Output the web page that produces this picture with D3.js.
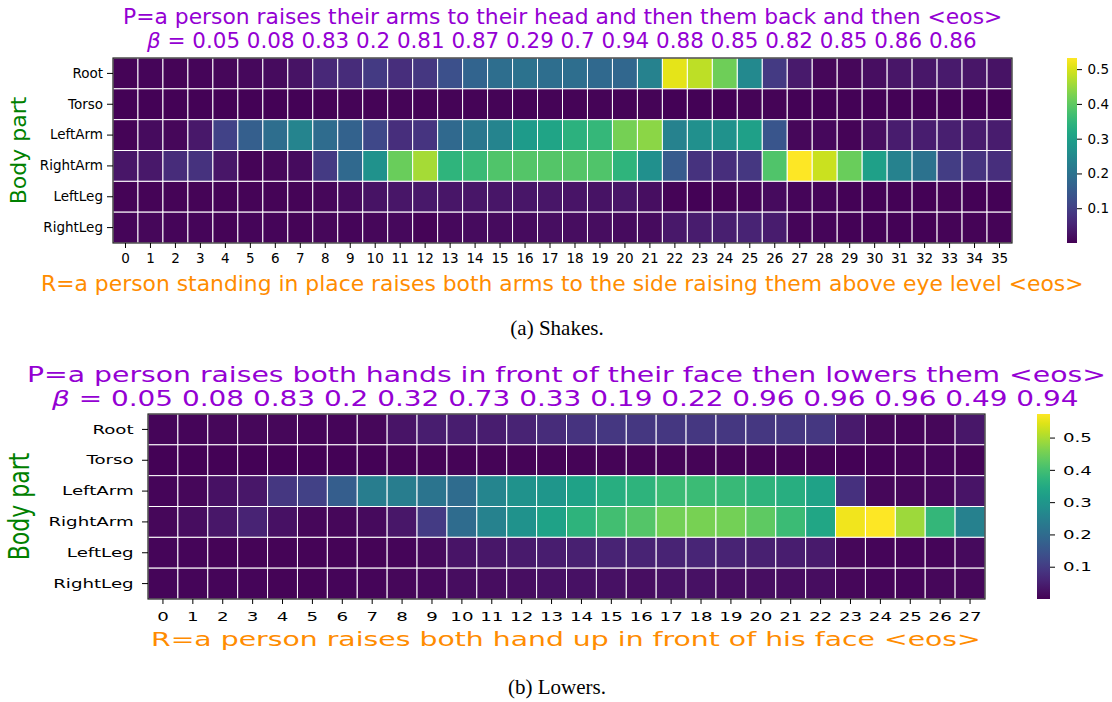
<!DOCTYPE html>
<html>
<head>
<meta charset="utf-8">
<script src="https://cdn.jsdelivr.net/npm/d3@7"></script>
<style>
body { margin: 0; background: #fff; }
</style>
</head>
<body>
<div id="fig"></div>
<script>
const parts = ["Root", "Torso", "LeftArm", "RightArm", "LeftLeg", "RightLeg"]
const cbTicks = [0.1, 0.2, 0.3, 0.4, 0.5]

// (a) Shakes
const shakesTitle = "P=a person raises their arms to their head and then them back and then <eos>"
const shakesBeta = [0.05, 0.08, 0.83, 0.2, 0.81, 0.87, 0.29, 0.7, 0.94, 0.88, 0.85, 0.82, 0.85, 0.86, 0.86]
const shakesRef = "R=a person standing in place raises both arms to the side raising them above eye level <eos>"
const shakesCaption = "(a) Shakes."
const shakesMax = 0.532
const shakesRoot = [0.005,0.008,0.005,0.008,0.01,0.012,0.015,0.025,0.06,0.065,0.09,0.07,0.085,0.13,0.17,0.19,0.2,0.19,0.19,0.18,0.175,0.235,0.51,0.48,0.415,0.25,0.09,0.037,0.01,0.01,0.02,0.03,0.033,0.036,0.03,0.025]
const shakesTorso = [0.004,0.004,0.003,0.003,0.003,0.004,0.004,0.004,0.005,0.005,0.005,0.005,0.005,0.006,0.006,0.006,0.006,0.006,0.006,0.006,0.005,0.005,0.004,0.004,0.004,0.005,0.005,0.004,0.004,0.004,0.004,0.004,0.004,0.004,0.004,0.004]
const shakesLeftArm = [0.005,0.015,0.01,0.035,0.105,0.16,0.19,0.24,0.185,0.165,0.115,0.07,0.08,0.18,0.21,0.24,0.29,0.31,0.34,0.355,0.42,0.44,0.235,0.265,0.27,0.3,0.14,0.01,0.012,0.005,0.02,0.04,0.042,0.045,0.04,0.04]
const shakesRightArm = [0.03,0.035,0.065,0.075,0.03,0.005,0.01,0.015,0.09,0.18,0.27,0.41,0.46,0.345,0.36,0.385,0.39,0.39,0.39,0.385,0.345,0.265,0.15,0.075,0.07,0.085,0.385,0.532,0.49,0.41,0.3,0.235,0.2,0.095,0.08,0.07]
const shakesLeftLeg = [0.005,0.005,0.005,0.005,0.005,0.005,0.005,0.005,0.01,0.015,0.025,0.03,0.035,0.03,0.03,0.03,0.03,0.03,0.028,0.025,0.03,0.02,0.005,0.004,0.005,0.008,0.015,0.008,0.008,0.004,0.004,0.003,0.004,0.005,0.004,0.004]
const shakesRightLeg = [0.008,0.01,0.008,0.008,0.006,0.008,0.008,0.006,0.01,0.008,0.01,0.012,0.005,0.012,0.015,0.015,0.015,0.02,0.018,0.018,0.015,0.015,0.035,0.04,0.045,0.05,0.04,0.008,0.008,0.004,0.004,0.004,0.004,0.005,0.005,0.005]

// (b) Lowers
const lowersTitle = "P=a person raises both hands in front of their face then lowers them <eos>"
const lowersBeta = [0.05, 0.08, 0.83, 0.2, 0.32, 0.73, 0.33, 0.19, 0.22, 0.96, 0.96, 0.96, 0.49, 0.94]
const lowersRef = "R=a person raises both hand up in front of his face <eos>"
const lowersCaption = "(b) Lowers."
const lowersMax = 0.573
const lowersRoot = [0.008,0.008,0.01,0.01,0.01,0.008,0.008,0.01,0.03,0.045,0.045,0.045,0.055,0.07,0.085,0.09,0.09,0.09,0.09,0.09,0.09,0.09,0.09,0.04,0.01,0.008,0.01,0.035]
const lowersTorso = [0.004,0.004,0.004,0.004,0.004,0.004,0.004,0.004,0.005,0.005,0.005,0.005,0.005,0.005,0.005,0.005,0.005,0.005,0.005,0.005,0.005,0.005,0.005,0.004,0.004,0.006,0.008,0.006]
const lowersLeftArm = [0.008,0.01,0.025,0.035,0.09,0.11,0.17,0.24,0.24,0.22,0.2,0.26,0.29,0.3,0.33,0.36,0.37,0.39,0.39,0.385,0.37,0.36,0.33,0.08,0.01,0.01,0.012,0.03]
const lowersRightArm = [0.01,0.02,0.035,0.055,0.025,0.01,0.01,0.015,0.035,0.1,0.2,0.255,0.29,0.33,0.37,0.4,0.42,0.45,0.455,0.45,0.43,0.39,0.34,0.56,0.573,0.49,0.38,0.25]
const lowersLeftLeg = [0.008,0.008,0.006,0.006,0.005,0.005,0.006,0.006,0.008,0.015,0.03,0.035,0.04,0.045,0.05,0.055,0.055,0.055,0.06,0.055,0.05,0.045,0.04,0.01,0.008,0.008,0.008,0.015]
const lowersRightLeg = [0.008,0.008,0.008,0.008,0.006,0.006,0.008,0.008,0.01,0.012,0.02,0.02,0.022,0.025,0.025,0.025,0.022,0.025,0.025,0.022,0.022,0.02,0.02,0.01,0.008,0.008,0.01,0.01]

const purple = "#9400d3", orange = "#ff8c00", green = "#008000"

const svg = d3.select("#fig").append("svg")
  .attr("width", 1112).attr("height", 702)
  .style("font-family", "DejaVu Sans")

// squeeze/stretch a line of text so it spans x0..x1 like in the paper figure
function fitText(str, x0, x1, y, size, color, beta) {
  const t = svg.append("text").attr("font-size", size).attr("fill", color)
  if (beta) {
    t.append("tspan").attr("font-style", "italic").text("β")
    t.append("tspan").text(" = " + str)
  } else t.text(str)
  const w = t.node().getBBox().width
  t.attr("transform", `translate(${x0},${y}) scale(${(x1 - x0) / w},1)`)
}

function panel(p) {
  const n = p.rows[0].length
  const x = d3.scaleBand().domain(d3.range(n)).range([p.left, p.right])
  const y = d3.scaleBand().domain(parts).range([p.top, p.bottom])
  const color = d3.scaleSequential(d3.interpolateViridis).domain([0, p.vmax])

  const cells = parts.flatMap((part, r) => p.rows[r].map((v, c) => ({part, c, v})))
  svg.append("g").selectAll("rect").data(cells).join("rect")
    .attr("x", d => x(d.c)).attr("y", d => y(d.part))
    .attr("width", x.bandwidth()).attr("height", y.bandwidth())
    .attr("fill", d => color(d.v))
    .attr("stroke", "#fff").attr("stroke-width", 1)

  svg.append("rect")
    .attr("x", p.left).attr("y", p.top)
    .attr("width", p.right - p.left).attr("height", p.bottom - p.top)
    .attr("fill", "none").attr("stroke", "#222").attr("stroke-width", 1.2)

  const xa = svg.append("g").attr("transform", `translate(0,${p.bottom})`)
    .call(d3.axisBottom(x).tickSize(5).tickPadding(p.xpad).tickSizeOuter(0))
  xa.select(".domain").remove()
  xa.selectAll("text").attr("font-size", p.fs).attr("font-family", "DejaVu Sans")
    .attr("transform", `scale(${p.sx},1)`)

  const ya = svg.append("g").attr("transform", `translate(${p.left},0)`)
    .call(d3.axisLeft(y).tickSize(6).tickSizeOuter(0))
  ya.select(".domain").remove()
  ya.selectAll("text").attr("font-size", p.fs).attr("font-family", "DejaVu Sans")
    .attr("x", -p.ylab / p.sx).attr("transform", `scale(${p.sx},1)`)

  // colorbar
  const gid = "grad" + p.id
  const grad = svg.append("defs").append("linearGradient").attr("id", gid)
    .attr("x1", 0).attr("y1", 1).attr("x2", 0).attr("y2", 0)
  d3.range(0, 1.0001, 0.05).forEach(t =>
    grad.append("stop").attr("offset", t).attr("stop-color", d3.interpolateViridis(t)))
  svg.append("rect").attr("x", p.cb0).attr("y", p.top)
    .attr("width", p.cb1 - p.cb0).attr("height", p.bottom - p.top)
    .attr("fill", `url(#${gid})`)
  const cy = d3.scaleLinear().domain([0, p.vmax]).range([p.bottom, p.top])
  const ca = svg.append("g").attr("transform", `translate(${p.cb1},0)`)
    .call(d3.axisRight(cy).tickValues(cbTicks).tickSize(5).tickFormat(d3.format(".1f")))
  ca.select(".domain").remove()
  ca.selectAll("text").attr("font-size", p.fs).attr("font-family", "DejaVu Sans")
    .attr("x", p.cblab / p.sx).attr("transform", `scale(${p.sx},1)`)

  svg.append("text")
    .attr("transform", `translate(${p.ylx},${(p.top + p.bottom) / 2}) rotate(-90) scale(1,${p.sx > 1 ? 1.25 : 1})`)
    .attr("text-anchor", "middle").attr("font-size", 22).attr("fill", green)
    .text("Body part")

  fitText(p.title, p.t1[0], p.t1[1], p.t1[2], 22, purple, false)
  fitText(p.beta.join(" "), p.t2[0], p.t2[1], p.t2[2], 22, purple, true)
  fitText(p.ref, p.r[0], p.r[1], p.r[2], p.rfs, orange, false)

  svg.append("text").attr("x", 557).attr("y", p.capY)
    .attr("text-anchor", "middle").attr("font-family", "Liberation Serif")
    .attr("font-size", 21).attr("fill", "#000").text(p.caption)
}

panel({id: "a", rows: [shakesRoot, shakesTorso, shakesLeftArm, shakesRightArm, shakesLeftLeg, shakesRightLeg],
  vmax: shakesMax, title: shakesTitle, beta: shakesBeta, ref: shakesRef, caption: shakesCaption,
  left: 113, right: 1012, top: 58, bottom: 243, cb0: 1067, cb1: 1077,
  fs: 13.5, sx: 1, xpad: 5.5, ylab: 10, cblab: 10.5, ylx: 26,
  t1: [123, 1003, 24], t2: [147, 978, 48], r: [41, 1084, 291], rfs: 22, capY: 335})

panel({id: "b", rows: [lowersRoot, lowersTorso, lowersLeftArm, lowersRightArm, lowersLeftLeg, lowersRightLeg],
  vmax: lowersMax, title: lowersTitle, beta: lowersBeta, ref: lowersRef, caption: lowersCaption,
  left: 148, right: 985, top: 414, bottom: 599, cb0: 1037, cb1: 1050,
  fs: 13, sx: 1.4, xpad: 8, ylab: 14.4, cblab: 13, ylx: 29,
  t1: [27, 1106, 382], t2: [52, 1080, 406], r: [151, 981, 646], rfs: 20, capY: 694})
</script>
</body>
</html>
